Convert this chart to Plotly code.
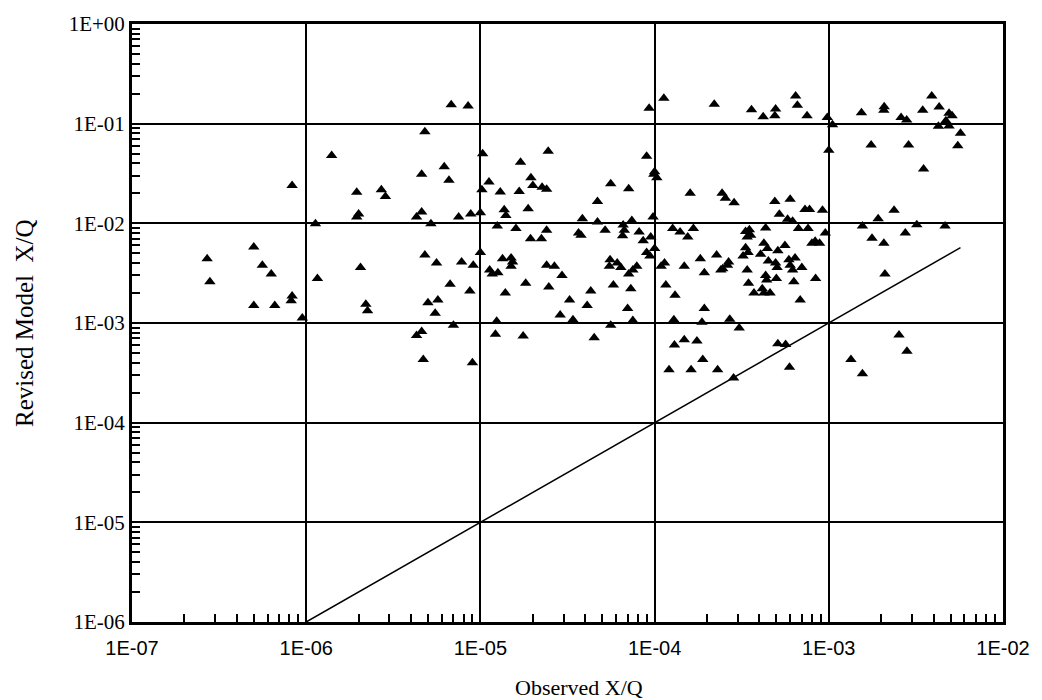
import plotly.graph_objects as go

# Observed vs. revised-model X/Q, one entry per sampler/run pair
obs_xq = [
    2.7e-7, 2.8e-7, 5.0e-7, 5.6e-7, 6.3e-7, 5.0e-7, 6.6e-7,
    6.8e-6, 8.5e-6, 4.8e-6, 1.4e-6, 6.2e-6, 4.6e-6, 6.6e-6, 8.3e-7, 1.95e-6,
    2.7e-6, 2.85e-6, 2.0e-6, 1.95e-6, 4.6e-6, 4.3e-6, 5.2e-6, 7.5e-6, 8.8e-6,
    1.13e-6, 4.8e-6, 5.6e-6, 7.8e-6, 9.1e-6, 2.05e-6, 1.16e-6, 6.7e-6, 8.7e-6,
    8.3e-7, 8.2e-7, 5.0e-6, 5.7e-6, 2.2e-6, 2.25e-6, 5.5e-6, 9.5e-7, 7.0e-6,
    4.6e-6, 4.3e-6, 4.7e-6, 9.0e-6,
    9.3e-5, 1.03e-5, 2.45e-5, 1.7e-5, 1.95e-5, 2.0e-5, 1.12e-5, 1.02e-5, 1.3e-5,
    1.67e-5, 2.26e-5, 2.4e-5, 5.6e-5, 7.1e-5, 9.0e-5, 9.9e-5, 4.7e-5, 1.37e-5,
    1.4e-5, 1.88e-5, 1.0e-5, 3.85e-5, 4.7e-5, 7.4e-5, 9.8e-5, 1.25e-5, 1.6e-5,
    2.4e-5, 1.94e-5, 2.24e-5, 3.66e-5, 3.78e-5, 5.2e-5, 6.6e-5, 6.7e-5, 6.55e-5,
    8.15e-5, 8.6e-5, 9.5e-5, 1.0e-4, 1.0e-5, 1.34e-5, 1.5e-5, 1.53e-5, 1.5e-5,
    1.13e-5, 1.17e-5, 1.26e-5, 2.4e-5, 2.66e-5, 2.94e-5, 5.55e-5, 5.5e-5, 6.1e-5,
    6.4e-5, 7.9e-5, 7.5e-5, 7.1e-5, 9.0e-5, 9.4e-5, 1.82e-5, 2.47e-5, 5.8e-5,
    7.3e-5, 1.39e-5, 4.3e-5, 3.25e-5, 4.1e-5, 7.0e-5, 2.87e-5, 3.4e-5, 1.24e-5,
    7.5e-5, 5.6e-5, 1.22e-5, 1.76e-5, 4.5e-5,
    1.13e-4, 2.2e-4, 6.45e-4, 6.6e-4, 3.6e-4, 4.2e-4, 4.95e-4, 4.9e-4, 7.5e-4,
    9.8e-4, 1.05e-3, 1.0e-4, 1.03e-4, 1.0e-3, 1.6e-4, 2.44e-4, 2.55e-4, 2.86e-4,
    4.9e-4, 6.0e-4, 5.2e-4, 7.3e-4, 7.75e-4, 9.2e-4, 5.8e-4, 6.2e-4, 1.27e-4,
    1.4e-4, 1.67e-4, 1.55e-4, 3.33e-4, 3.5e-4, 3.4e-4, 3.56e-4, 3.33e-4, 3.44e-4,
    3.22e-4, 4.34e-4, 4.24e-4, 4.44e-4, 4.06e-4, 5.6e-4, 5.1e-4, 6.7e-4, 7.6e-4,
    9.55e-4, 8.35e-4, 8.0e-4, 8.85e-4, 2.27e-4, 1.83e-4, 2.66e-4, 2.62e-4, 2.46e-4,
    2.4e-4, 1.14e-4, 1.09e-4, 1.48e-4, 1.93e-4, 3.4e-4, 4.5e-4, 4.95e-4, 5.05e-4,
    5.9e-4, 6.4e-4, 6.0e-4, 6.2e-4, 7.0e-4, 4.34e-4, 4.4e-4, 5.0e-4, 3.46e-4,
    6.3e-4, 8.4e-4, 1.16e-4, 1.31e-4, 3.72e-4, 4.15e-4, 4.24e-4, 4.6e-4, 6.85e-4,
    1.93e-4, 1.29e-4, 1.87e-4, 2.7e-4, 3.06e-4, 1.48e-4, 1.75e-4, 1.3e-4, 1.89e-4,
    5.1e-4, 5.65e-4, 1.21e-4, 1.62e-4, 2.3e-4, 5.95e-4, 2.84e-4,
    3.9e-3, 1.54e-3, 2.08e-3, 2.07e-3, 3.46e-3, 4.3e-3, 4.9e-3, 5.1e-3, 2.6e-3,
    2.8e-3, 4.7e-3, 4.26e-3, 4.9e-3, 5.7e-3, 1.75e-3, 2.87e-3, 5.5e-3, 3.5e-3,
    2.37e-3, 1.92e-3, 1.56e-3, 3.2e-3, 4.65e-3, 2.75e-3, 1.77e-3, 2.07e-3, 2.1e-3,
    2.53e-3, 2.81e-3, 1.34e-3, 1.56e-3,
]
model_xq = [
    4.4e-3, 2.6e-3, 5.8e-3, 3.8e-3, 3.1e-3, 1.5e-3, 1.5e-3,
    0.155, 0.15, 0.083, 0.048, 0.037, 0.031, 0.027, 0.024, 0.0205,
    0.0217, 0.0186, 0.0124, 0.0116, 0.013, 0.0116, 0.0099, 0.0116, 0.0124,
    0.0099, 0.0048, 0.0040, 0.0041, 0.0038, 0.0036, 0.0028, 0.00245, 0.0021,
    0.00187, 0.00167, 0.0016, 0.0017, 0.00154, 0.00133, 0.00125, 0.00112, 0.00095,
    0.00082, 0.00075, 0.00043, 0.00040,
    0.143, 0.050, 0.053, 0.041, 0.0286, 0.024, 0.026, 0.0217, 0.0206,
    0.0209, 0.023, 0.022, 0.025, 0.0222, 0.047, 0.031, 0.0166, 0.0137,
    0.012, 0.014, 0.0128, 0.0111, 0.0103, 0.0107, 0.0116, 0.0094, 0.0089,
    0.0085, 0.0070, 0.0070, 0.0080, 0.0076, 0.0085, 0.0096, 0.0085, 0.0075,
    0.0082, 0.0067, 0.0073, 0.0056, 0.0051, 0.0044, 0.0045, 0.0041, 0.0037,
    0.0034, 0.0031, 0.0032, 0.0038, 0.0037, 0.0030, 0.0043, 0.0037, 0.0040,
    0.0036, 0.0037, 0.0034, 0.0031, 0.0051, 0.0047, 0.0025, 0.0023, 0.0024,
    0.0022, 0.0020, 0.0021, 0.0017, 0.0015, 0.0014, 0.0012, 0.00108, 0.00104,
    0.00106, 0.00095, 0.00077, 0.00074, 0.00071,
    0.18, 0.157, 0.19, 0.153, 0.138, 0.117, 0.14, 0.12, 0.12,
    0.115, 0.0975, 0.033, 0.0286, 0.054, 0.020, 0.020, 0.0179, 0.0161,
    0.0166, 0.0174, 0.0123, 0.0138, 0.0138, 0.0135, 0.011, 0.0105, 0.0089,
    0.0082, 0.0089, 0.0073, 0.0083, 0.0086, 0.0073, 0.0076, 0.0057, 0.0051,
    0.0047, 0.0090, 0.0063, 0.0056, 0.0049, 0.0060, 0.0053, 0.0089, 0.0089,
    0.0080, 0.0066, 0.0063, 0.0063, 0.0048, 0.0044, 0.0041, 0.0038, 0.0035,
    0.0034, 0.0040, 0.0037, 0.0037, 0.0032, 0.0034, 0.0042, 0.0040, 0.0036,
    0.0043, 0.0045, 0.0038, 0.0034, 0.0036, 0.0030, 0.0027, 0.0028, 0.0025,
    0.0026, 0.0028, 0.0024, 0.0019, 0.0020, 0.0022, 0.0020, 0.0020, 0.0017,
    0.0014, 0.00108, 0.00102, 0.00109, 0.00089, 0.00068, 0.00066, 0.00060, 0.00043,
    0.00062, 0.00061, 0.00034, 0.00034, 0.00034, 0.00036, 0.00028,
    0.19, 0.129, 0.148, 0.136, 0.136, 0.147, 0.127, 0.12, 0.115,
    0.109, 0.107, 0.094, 0.095, 0.080, 0.061, 0.061, 0.060, 0.035,
    0.0135, 0.0111, 0.0094, 0.0097, 0.0094, 0.0080, 0.0071, 0.0063, 0.0031,
    0.00076, 0.00052, 0.00043, 0.00031,
]

# 1:1 reference line
line_xq = [1e-6, 5.7e-3]

x_tickvals = [1e-7, 1e-6, 1e-5, 1e-4, 1e-3, 1e-2]
x_ticktext = ["1E-07", "1E-06", "1E-05", "1E-04", "1E-03", "1E-02"]
y_tickvals = [1e-6, 1e-5, 1e-4, 1e-3, 1e-2, 1e-1, 1e0]
y_ticktext = ["1E-06", "1E-05", "1E-04", "1E-03", "1E-02", "1E-01", "1E+00"]


def minor_positions(decades):
    """2..9 subdivisions inside each decade."""
    return [m * d for d in decades[:-1] for m in range(2, 10)]


fig = go.Figure()
fig.add_trace(go.Scatter(
    x=line_xq, y=line_xq, mode="lines",
    line=dict(color="black", width=1.5), hoverinfo="skip", showlegend=False,
))
fig.add_trace(go.Scatter(
    x=obs_xq, y=model_xq, mode="markers",
    marker=dict(symbol="triangle-up", size=10, color="black"),
    showlegend=False,
))

serif = "Liberation Serif, Times New Roman, serif"
sans = "Liberation Sans, Arial, sans-serif"

fig.update_layout(
    width=1042, height=700,
    margin=dict(l=132, r=33, t=21, b=78),
    paper_bgcolor="white", plot_bgcolor="white",
    xaxis=dict(
        type="log", range=[-7, -2],
        tickmode="array", tickvals=x_tickvals, ticktext=x_ticktext,
        tickfont=dict(family=sans, size=20, color="black"),
        ticks="inside", ticklen=8, tickwidth=1.5, tickcolor="black",
        ticklabelstandoff=6,
        showgrid=True, gridcolor="black", gridwidth=1.6,
        showline=True, linecolor="black", linewidth=3, mirror=True,
        zeroline=False, layer="above traces",
        minor=dict(tickmode="array", tickvals=minor_positions(x_tickvals),
                   ticks="inside", ticklen=8, tickwidth=1.5, tickcolor="black",
                   showgrid=False),
    ),
    yaxis=dict(
        type="log", range=[-6, 0],
        tickmode="array", tickvals=y_tickvals, ticktext=y_ticktext,
        tickfont=dict(family=serif, size=21, color="black"),
        ticks="inside", ticklen=8, tickwidth=1.5, tickcolor="black",
        showgrid=True, gridcolor="black", gridwidth=1.6,
        showline=True, linecolor="black", linewidth=3, mirror=True,
        zeroline=False, layer="above traces",
        minor=dict(tickmode="array", tickvals=minor_positions(y_tickvals),
                   ticks="inside", ticklen=8, tickwidth=1.5, tickcolor="black",
                   showgrid=False),
    ),
    annotations=[
        dict(text="Observed X/Q", xref="paper", yref="paper",
             x=0.513, y=-0.11, xanchor="center", yanchor="middle",
             showarrow=False, font=dict(family=serif, size=22, color="black")),
        dict(text="Revised Model  X/Q", xref="paper", yref="paper",
             x=-0.124, y=0.5, xanchor="center", yanchor="middle", textangle=-90,
             showarrow=False, font=dict(family=serif, size=25, color="black")),
    ],
)

fig.write_html("out.html")
